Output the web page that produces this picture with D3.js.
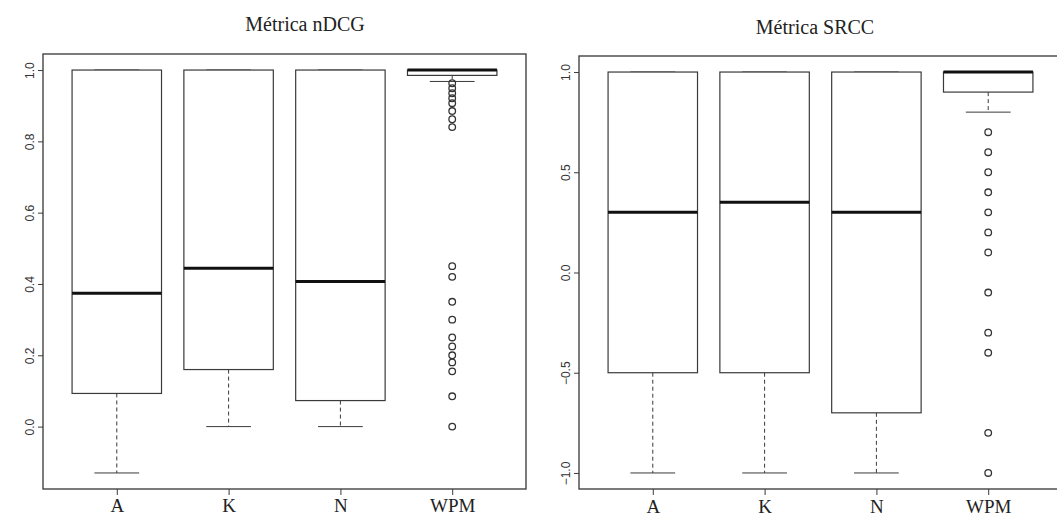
<!DOCTYPE html>
<html>
<head>
<meta charset="utf-8">
<script src="https://cdn.jsdelivr.net/npm/d3@7"></script>
<style>
  body { margin: 0; background: #fff; }
</style>
</head>
<body>
<div id="my_dataviz"></div>
<script>

// --------------------------------------------------------
// (1) Define Variables
// --------------------------------------------------------

var rootElement = "#my_dataviz";

var svg_width = 1057
var svg_height = 519

// groups on the x axis
var categories = ["A", "K", "N", "WPM"]

// nDCG metric : five-number summaries + outliers
var ndcgTitle = "Métrica nDCG"
var ndcgLow = [-0.13, 0.0, 0.0, 0.968]
var ndcgQ1 = [0.093, 0.16, 0.073, 0.985]
var ndcgMedian = [0.374, 0.444, 0.407, 1.0]
var ndcgQ3 = [1.0, 1.0, 1.0, 1.0]
var ndcgHigh = [1.0, 1.0, 1.0, 1.0]
var ndcgOutliers = [[], [], [], [0.963, 0.949, 0.935, 0.921, 0.907, 0.885, 0.862, 0.84,
                                0.45, 0.42, 0.35, 0.3, 0.25, 0.225, 0.2, 0.18, 0.155, 0.085, 0.0]]
var ndcgTicks = [0.0, 0.2, 0.4, 0.6, 0.8, 1.0]

// SRCC metric
var srccTitle = "Métrica SRCC"
var srccLow = [-1.0, -1.0, -1.0, 0.8]
var srccQ1 = [-0.5, -0.5, -0.7, 0.9]
var srccMedian = [0.3, 0.35, 0.3, 1.0]
var srccQ3 = [1.0, 1.0, 1.0, 1.0]
var srccHigh = [1.0, 1.0, 1.0, 1.0]
var srccOutliers = [[], [], [], [0.7, 0.6, 0.5, 0.4, 0.3, 0.2, 0.1, -0.1, -0.3, -0.4, -0.8, -1.0]]
var srccTicks = [-1.0, -0.5, 0.0, 0.5, 1.0]

// panel placement (pixels)
var panels = [
  { title: ndcgTitle, low: ndcgLow, q1: ndcgQ1, med: ndcgMedian, q3: ndcgQ3, high: ndcgHigh,
    out: ndcgOutliers, ticks: ndcgTicks, ydomain: [-0.175, 1.045],
    left: 43, right: 526, top: 54, bottom: 489, titleX: 305, titleY: 31, labelY: 512 },
  { title: srccTitle, low: srccLow, q1: srccQ1, med: srccMedian, q3: srccQ3, high: srccHigh,
    out: srccOutliers, ticks: srccTicks, ydomain: [-1.08, 1.08],
    left: 579, right: 1062, top: 56, bottom: 489, titleX: 815, titleY: 34, labelY: 513 }
]

var lineColor = "#3a3a3a"


// --------------------------------------------------------
// (2) Create the SVG
// --------------------------------------------------------

const svg = d3.select(rootElement)
    .append("svg")
      .attr("width", svg_width)
      .attr("height", svg_height)

panels.forEach(p => drawBoxplot(p))


// --------------------------------------------------------
// (3) Draw one boxplot panel
// --------------------------------------------------------

function drawBoxplot(p) {

    const g = svg.append("g")

    // (31) scales : R style, 4% padding around the data range
    const x = d3.scaleLinear()
        .domain([0.34, 4.66])
        .range([p.left, p.right])

    const y = d3.scaleLinear()
        .domain(p.ydomain)
        .range([p.bottom, p.top])

    const step = x(2) - x(1)
    const boxW = step * 0.8
    const capW = boxW * 0.5

    // (32) frame
    g.append("rect")
        .attr("x", p.left)
        .attr("y", p.top)
        .attr("width", p.right - p.left)
        .attr("height", p.bottom - p.top)
        .attr("fill", "none")
        .attr("stroke", "#444")
        .attr("stroke-width", 1.4)

    // (33) y axis
    const yAxis = g.append("g")
        .attr("transform", `translate(${p.left}, 0)`)
        .call(d3.axisLeft(y).tickValues(p.ticks).tickSize(5).tickFormat(d3.format(".1f")))
    yAxis.select(".domain").remove()
    yAxis.selectAll("line").attr("stroke", lineColor)
    yAxis.selectAll("text")
        .attr("x", null).attr("dy", null)
        .attr("transform", "translate(-9,0) rotate(-90)")
        .style("text-anchor", "middle")
        .style("font-family", "Liberation Sans, Arial, sans-serif")
        .style("font-size", "12px")
        .attr("fill", "#333")

    // (34) x axis
    const xAxis = g.append("g")
        .attr("transform", `translate(0, ${p.bottom})`)
        .call(d3.axisBottom(x).tickValues([1, 2, 3, 4]).tickSize(6).tickFormat(i => categories[i - 1]))
    xAxis.select(".domain").remove()
    xAxis.selectAll("line").attr("stroke", lineColor)
    xAxis.selectAll("text")
        .attr("y", p.labelY - p.bottom).attr("dy", null)
        .style("font-family", "Liberation Serif, Times New Roman, serif")
        .style("font-size", "19px")
        .attr("fill", "#222")

    // (35) title
    g.append("text")
        .attr("x", p.titleX)
        .attr("y", p.titleY)
        .attr("text-anchor", "middle")
        .style("font-family", "Liberation Serif, Times New Roman, serif")
        .style("font-size", "20px")
        .attr("fill", "#222")
        .text(p.title)

    const idx = d3.range(categories.length)

    // (36) whiskers (dashed) and staples
    g.selectAll(".wlow").data(idx).join("line")
        .attr("x1", i => x(i + 1)).attr("x2", i => x(i + 1))
        .attr("y1", i => y(p.q1[i])).attr("y2", i => y(p.low[i]))
        .attr("stroke", lineColor).attr("stroke-dasharray", "4,3")
    g.selectAll(".whigh").data(idx).join("line")
        .attr("x1", i => x(i + 1)).attr("x2", i => x(i + 1))
        .attr("y1", i => y(p.q3[i])).attr("y2", i => y(p.high[i]))
        .attr("stroke", lineColor).attr("stroke-dasharray", "4,3")
    g.selectAll(".caplow").data(idx).join("line")
        .attr("x1", i => x(i + 1) - capW / 2).attr("x2", i => x(i + 1) + capW / 2)
        .attr("y1", i => y(p.low[i])).attr("y2", i => y(p.low[i]))
        .attr("stroke", lineColor)
    g.selectAll(".caphigh").data(idx).join("line")
        .attr("x1", i => x(i + 1) - capW / 2).attr("x2", i => x(i + 1) + capW / 2)
        .attr("y1", i => y(p.high[i])).attr("y2", i => y(p.high[i]))
        .attr("stroke", lineColor)

    // (37) boxes
    g.selectAll(".box").data(idx).join("rect")
        .attr("x", i => x(i + 1) - boxW / 2)
        .attr("y", i => y(p.q3[i]))
        .attr("width", boxW)
        .attr("height", i => y(p.q1[i]) - y(p.q3[i]))
        .attr("fill", "#fff")
        .attr("stroke", lineColor)
        .attr("stroke-width", 1.2)

    // (38) medians
    g.selectAll(".med").data(idx).join("line")
        .attr("x1", i => x(i + 1) - boxW / 2).attr("x2", i => x(i + 1) + boxW / 2)
        .attr("y1", i => y(p.med[i])).attr("y2", i => y(p.med[i]))
        .attr("stroke", "#111")
        .attr("stroke-width", 3)

    // (39) outliers
    const pts = []
    p.out.forEach((vals, i) => vals.forEach(v => pts.push({ i: i, v: v })))
    g.selectAll(".out").data(pts).join("circle")
        .attr("cx", d => x(d.i + 1))
        .attr("cy", d => y(d.v))
        .attr("r", 3.3)
        .attr("fill", "none")
        .attr("stroke", "#333")
        .attr("stroke-width", 1.3)
}

</script>
</body>
</html>
